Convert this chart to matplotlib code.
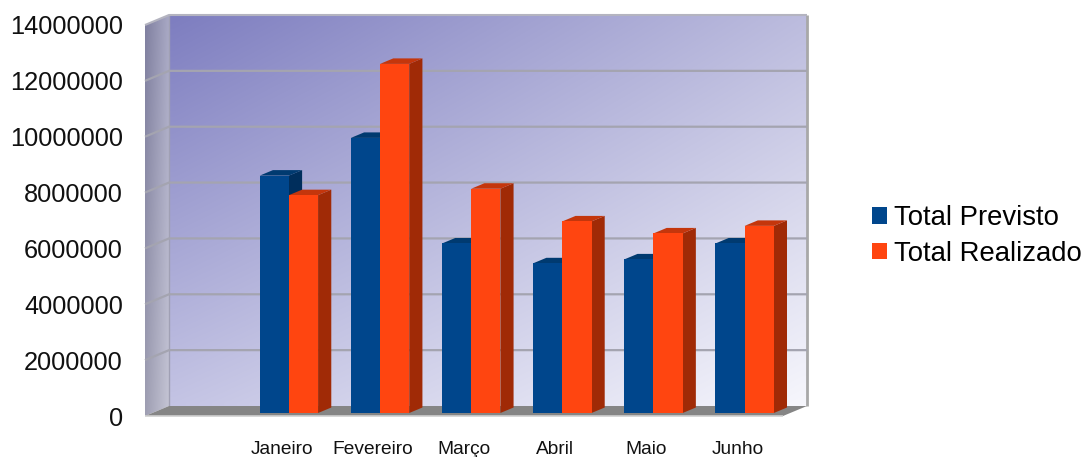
import numpy as np
import matplotlib
matplotlib.use("Agg")
import matplotlib.pyplot as plt
from matplotlib.patches import Polygon, Patch
from matplotlib.lines import Line2D
from matplotlib.transforms import Affine2D, IdentityTransform

plt.rcParams['font.family'] = ['Liberation Sans', 'DejaVu Sans']

# ---- data ----
months = ["Janeiro", "Fevereiro", "Março", "Abril", "Maio", "Junho"]
total_previsto = [8500000, 9850000, 6070000, 5360000, 5500000, 6070000]
total_realizado = [7800000, 12500000, 8030000, 6860000, 6430000, 6700000]
series_names = ["Total Previsto", "Total Realizado"]
yticks = list(range(0, 14000001, 2000000))

# ---- styling ----
W, H = 1086, 457
DX, DY = 24.0, 10.0          # depth offset of back plane (px)
F0, F1 = 0.30, 0.85          # bar depth range
BW = 0.32                    # bar width (category units)
blue = dict(front='#00468C', top='#003A70', side='#002E5C')
orange = dict(front='#FF4510', top='#C4360C', side='#A02A06')

fig = plt.figure(figsize=(W / 100, H / 100), dpi=100)
ax = fig.add_axes([145 / W, 41 / H, 638 / W, 391 / H])
ax.set_xlim(-0.5, 6.5)
ax.set_ylim(0, 14000000)
ax.patch.set_visible(False)
for s in ax.spines.values():
    s.set_visible(False)

ax.set_yticks(yticks)
ax.set_yticklabels([str(v) for v in yticks])
ax.set_xticks(range(1, len(months) + 1))
ax.set_xticklabels(months)
ax.tick_params(axis='y', length=0, pad=16, labelsize=18.3, labelcolor='#111111')
ax.tick_params(axis='x', length=0, pad=18, labelsize=13.8, labelcolor='#111111')

ID = IdentityTransform()


def P(x, y, f):
    X, Y = ax.transData.transform((x, y))
    return (X + f * DX, Y + f * DY)


def poly(pts, color, z, ec='none', lw=0):
    p = Polygon(pts, closed=True, facecolor=color, edgecolor=ec, lw=lw,
                transform=ID, clip_on=False, zorder=z)
    ax.add_artist(p)


def line(pts, color, lw, z):
    xs, ys = zip(*pts)
    l = Line2D(xs, ys, color=color, lw=lw, transform=ID, clip_on=False,
               zorder=z, solid_capstyle='butt')
    ax.add_artist(l)


def bilinear(c00, c10, c01, c11, n=64):
    # c00 bottom-left, c10 bottom-right, c01 top-left, c11 top-right
    u = np.linspace(0, 1, n)[None, :, None]
    v = np.linspace(1, 0, n)[:, None, None]  # image rows: top first
    c00, c10, c01, c11 = [np.array(c, float)[None, None, :] / 255 for c in (c00, c10, c01, c11)]
    img = (c00 * (1 - u) * (1 - v) + c10 * u * (1 - v) +
           c01 * (1 - u) * v + c11 * u * v)
    alpha = np.ones(img.shape[:2] + (1,))
    return np.concatenate([img, alpha], axis=2)


def affine_image(img, origin, ex, ey, z):
    # maps unit square to parallelogram origin + u*ex + v*ey
    M = np.array([[ex[0], ey[0], origin[0]],
                  [ex[1], ey[1], origin[1]],
                  [0, 0, 1]])
    im = ax.imshow(img, extent=[0, 1, 0, 1], aspect='auto', interpolation='bilinear',
                   transform=Affine2D(M), zorder=z)
    im.set_clip_on(False)


xl, xr = -0.5, 6.5
ytop = 14000000

# back wall
o = np.array(P(xl, 0, 1)); a = np.array(P(xr, 0, 1)); b = np.array(P(xl, ytop, 1))
affine_image(bilinear((196, 196, 228), (246, 246, 252), (126, 126, 192), (188, 188, 222)),
             o, a - o, b - o, 0)

# left wall
o = np.array(P(xl, 0, 0)); a = np.array(P(xl, 0, 1)); b = np.array(P(xl, ytop, 0))
affine_image(bilinear((158, 158, 178), (196, 196, 212), (128, 128, 160), (168, 168, 196)),
             o, a - o, b - o, 0.5)

# wall borders
line([P(xl, 0, 1), P(xl, ytop, 1)], '#a0a0b4', 1.0, 1)
line([P(xr, 0, 1), P(xr, ytop, 1)], '#a8a8a8', 2.0, 1)
line([P(xl, ytop, 0), P(xl, ytop, 1), P(xr, ytop, 1)], '#b4b4c0', 1.5, 1)

# gridlines
for yv in yticks[1:-1]:
    line([P(xl, yv, 0), P(xl, yv, 1), P(xr, yv, 1)], '#a4a4b0', 1.6, 2)

# floor
poly([P(xl, 0, 0), P(xr, 0, 0), P(xr, 0, 1), P(xl, 0, 1)], '#858585', 3)
line([P(xl, 0, 0), P(xr, 0, 0)], '#cfcfcf', 1.2, 3.1)

# bars
z = 10
for i in range(len(months)):
    xc = i + 1
    for vals, col, x0 in ((total_previsto, blue, xc - BW), (total_realizado, orange, xc)):
        v = vals[i]
        x1 = x0 + BW
        poly([P(x1, 0, F0), P(x1, v, F0), P(x1, v, F1), P(x1, 0, F1)], col['side'], z)
        poly([P(x0, v, F0), P(x1, v, F0), P(x1, v, F1), P(x0, v, F1)], col['top'], z + 0.1)
        poly([P(x0, 0, F0), P(x1, 0, F0), P(x1, v, F0), P(x0, v, F0)], col['front'], z + 0.2)
        z += 1

ax.set_xlim(-0.5, 6.5)
ax.set_ylim(0, 14000000)

handles = [Patch(facecolor=blue['front'], edgecolor='none'),
           Patch(facecolor=orange['front'], edgecolor='none')]
fig.legend(handles, series_names, loc='center left', bbox_to_anchor=(872 / W, 1 - 236 / H),
           frameon=False, fontsize=19.8, handlelength=0.55, handleheight=0.55,
           handletextpad=0.25, labelspacing=0.35, borderpad=0, borderaxespad=0)

fig.savefig("out.png", dpi=100)
